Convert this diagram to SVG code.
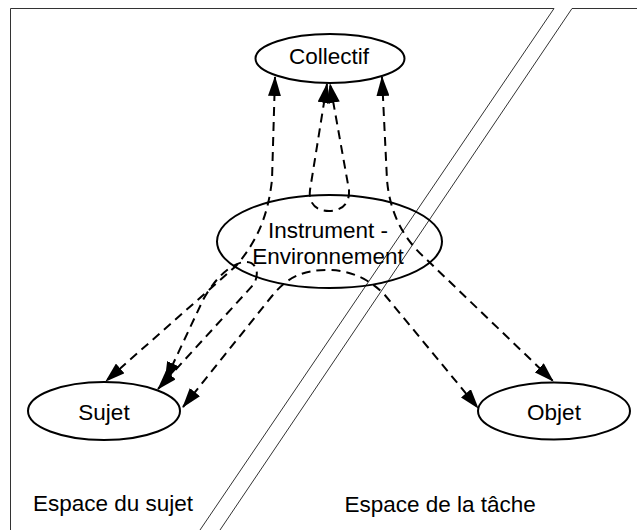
<svg xmlns="http://www.w3.org/2000/svg" width="637" height="530" viewBox="0 0 637 530">
<style>
.frame{fill:none;stroke:#333;stroke-width:1}
.node{fill:none;stroke:#000;stroke-width:2}
.lbl{font-family:"Liberation Sans",Arial,Helvetica,sans-serif;font-size:22.5px;fill:#000}
.c{text-anchor:middle}
.edge{fill:none;stroke:#000;stroke-width:2;stroke-dasharray:9 6;marker-start:url(#ah);marker-end:url(#ah)}
</style>
<defs>
<marker id="ah" viewBox="0 0 20 13" refX="19" refY="6.5" markerWidth="20" markerHeight="13" markerUnits="userSpaceOnUse" orient="auto-start-reverse">
<path d="M0,0 L20,6.5 L0,13 z" fill="#000"/>
</marker>
</defs>
<rect width="637" height="530" fill="#fff"/>
<g id="frame">
<path class="frame" d="M10.5,530 L10.5,8.5 L554,8.5 L200,530"/>
<path class="frame" d="M637,8.5 L572,8.5 L220,530"/>
</g>
<g id="collectif">
<ellipse class="node" cx="330" cy="58.5" rx="74.5" ry="24.5"/>
<text class="lbl c" x="329" y="63.5">Collectif</text>
</g>
<g id="instrument">
<ellipse class="node" cx="329.5" cy="241.5" rx="112.5" ry="46.5"/>
<text class="lbl c" x="328" y="237.5">Instrument -</text>
<text class="lbl c" x="328" y="263.5">Environnement</text>
</g>
<g id="sujet">
<ellipse class="node" cx="104" cy="411" rx="76" ry="29"/>
<text class="lbl c" x="104" y="419.5">Sujet</text>
</g>
<g id="objet">
<ellipse class="node" cx="554" cy="411" rx="76" ry="28.5"/>
<text class="lbl c" x="554" y="419.5">Objet</text>
</g>
<g id="espace-sujet">
<text class="lbl" x="33" y="511">Espace du sujet</text>
</g>
<g id="espace-tache">
<text class="lbl" x="344.5" y="511.5">Espace de la tâche</text>
</g>
<g id="connectors">
<path class="edge" d="M275,77 L272,180 C268,215 258,240 236,266 L106,381"/>
<path class="edge" d="M382,77 L387,180 C390,215 405,240 425,258 L553,381"/>
<path class="edge" d="M327,84 L310,190 C308,205 318,211 329,211 C340,211 350,205 349,190 L330,84"/>
<path class="edge" d="M165,381 L203,300 C215,278 232,262 246,262 C256,262 260,272 254,284 L158,389"/>
<path class="edge" d="M183,407 L272,296 C288,276 305,270 327,270 C349,270 368,278 384,294 L478,408"/>
</g>
</svg>
